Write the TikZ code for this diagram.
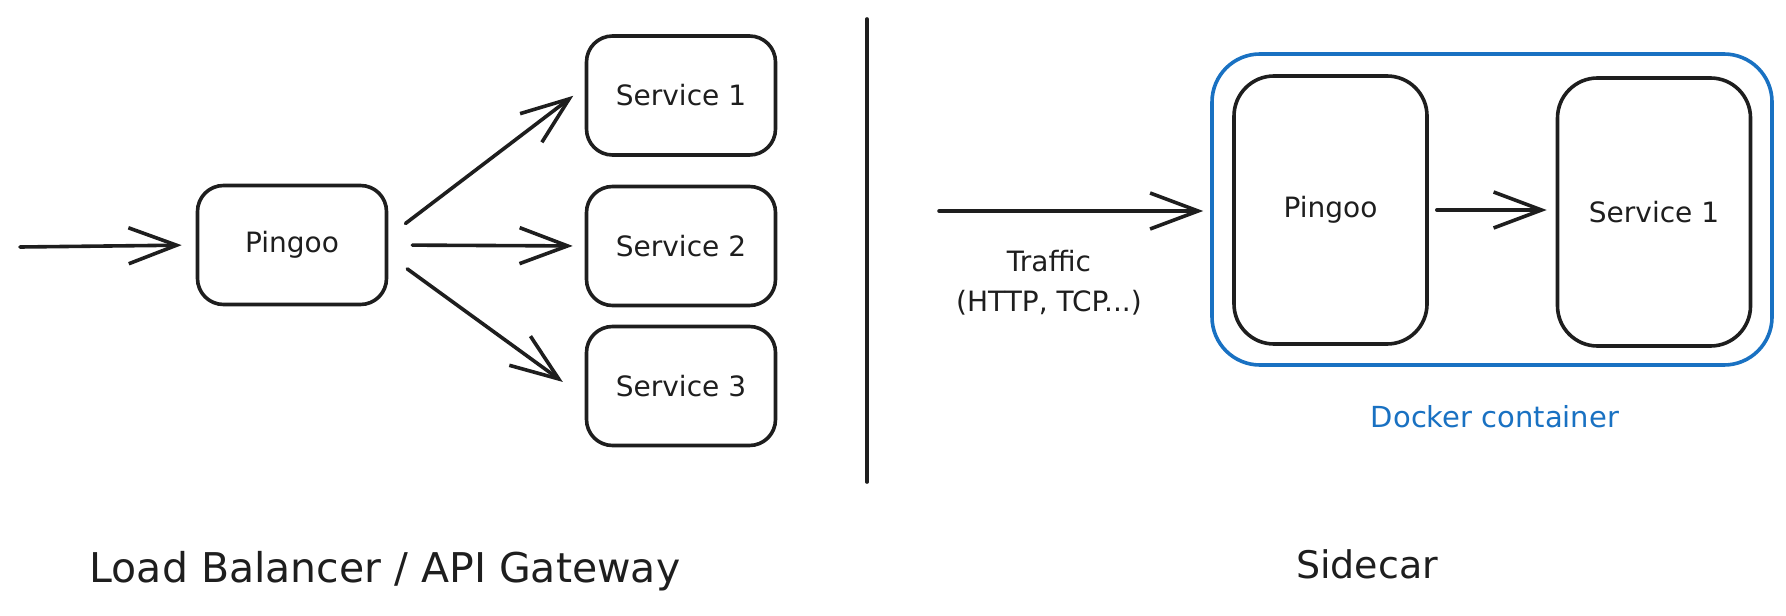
\documentclass[tikz,border=0pt]{standalone}
\usepackage{fontspec}
\setmainfont{DejaVu Sans}
\usetikzlibrary{arrows.meta}
\definecolor{ink}{HTML}{1E1E1E}
\definecolor{dock}{HTML}{1971C2}
\begin{document}
\begin{tikzpicture}[x=0.5pt,y=-0.5pt,
  box/.style={draw=ink,line width=1.8pt,rounded corners=13pt,minimum width=94.5pt,minimum height=59.5pt,inner sep=0pt,text=ink,font=\fontsize{14}{17}\selectfont},
  tall/.style={box,rounded corners=20pt,minimum width=96.5pt,minimum height=134pt},
  link/.style={draw=ink,line width=1.8pt,line cap=round,line join=round,-{Straight Barb[length=24pt,width=18pt]}},
  lbl/.style={text=ink,inner sep=0pt,font=\fontsize{14}{20}\selectfont,align=center},
  title/.style={text=ink,inner sep=0pt,font=\fontsize{19}{22}\selectfont}]
\useasboundingbox (0,0) rectangle (1786,615);
\def\sx{681};
% load balancer side
\node[box] (P) at (292,245) {Pingoo};
\node[box] (S1) at (\sx,95.5) {Service 1};
\node[box] (S2) at (\sx,246) {Service 2};
\node[box] (S3) at (\sx,386) {Service 3};
\coordinate (in) at (20,247);
\draw[link,shorten >=7pt] (in) to (P.west);
\draw[link,shorten <=10.8pt,shorten >=7.2pt] (P.5) to (S1.175);
\draw[link,shorten <=12pt,shorten >=6pt] (P.east) to (S2.west);
\draw[link,shorten <=11.7pt,shorten >=13.5pt] (P.-6) to (S3.187);
\node[title,font=\fontsize{20.5}{24}\selectfont] (LB) at (385,571) {Load Balancer / API Gateway};
% divider
\coordinate (top) at (867,19);
\coordinate (bot) at (867,482);
\draw[draw=ink,line width=1.8pt,line cap=round] (top) -- (bot);
% sidecar side
\node[draw=dock,line width=1.8pt,rounded corners=24pt,minimum width=280pt,minimum height=155.5pt,inner sep=0pt] (Box) at (1492,209.5) {};
\node[tall] (Q) at (1330.5,210) {Pingoo};
\node[tall] (T) at (1654,212) {Service 1};
\coordinate (tr) at (939,211);
\draw[link,shorten >=3.5pt] (tr) to (tr-|Box.west);
\draw[link,shorten <=4pt,shorten >=4.5pt] (Q.east) to (Q.east-|T.west);
\node[lbl] (TL) at (1049,283) {Traffic\\(HTTP, TCP...)};
\node[lbl,text=dock,font=\fontsize{14.5}{17}\selectfont] (DL) at (1495,417) {Docker container};
\node[title] (SC) at (1367,564) {Sidecar};
\end{tikzpicture}
\end{document}
